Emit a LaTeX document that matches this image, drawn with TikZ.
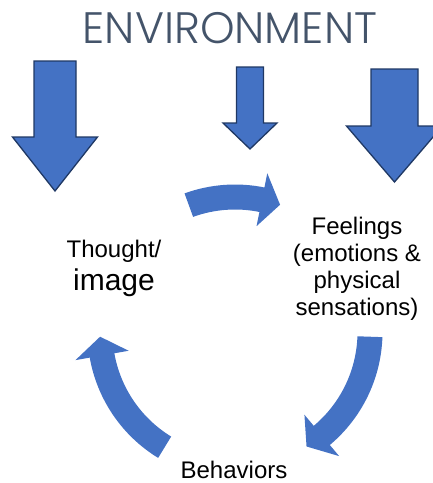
\documentclass[tikz,border=0pt]{standalone}
\usepackage{fontspec}
\setmainfont{Liberation Sans}
\newfontfamily\envfont{Poppins Light}
\usetikzlibrary{calc}
\definecolor{arrowblue}{HTML}{4472C4}
\definecolor{arrowline}{HTML}{1F3864}
\definecolor{envgray}{HTML}{44546A}
% straight arrow: centre x, top, shaft half width, head y, head half width, tip y
\newcommand{\envarrow}[6]{%
  \draw[envArrow] (#1-#3,#2) -- (#1+#3,#2) -- (#1+#3,#4) -- (#1+#5,#4)
    -- (#1,#6) -- (#1-#5,#4) -- (#1-#3,#4) -- cycle;}
% curved arrow round (ctr): tail angle, head angle, tip angle
\newcommand{\cyclearrow}[3]{%
  \fill[loopArrow] ($(ctr)+(#1:147.5)$) arc[start angle=#1, end angle=#2, radius=147.5]
    -- ($(ctr)+(#2:162)$) -- ($(ctr)+(#3:135)$) -- ($(ctr)+(#2:108)$)
    -- ($(ctr)+(#2:122.5)$) arc[start angle=#2, end angle=#1, radius=122.5] -- cycle;}

\begin{document}
\begin{tikzpicture}[x=1pt,y=1pt,
    envArrow/.style={fill=arrowblue, draw=arrowline, line width=1.3pt, line join=miter},
    loopArrow/.style={fill=arrowblue},
    label24/.style={anchor=base, align=center, inner sep=0pt, font=\fontsize{24}{27}\selectfont}]
        \useasboundingbox (0,0) rectangle (433,-483);
        \clip (0,0) rectangle (433,-483);
        % ENVIRONMENT and its arrows
        \node (env) at (230,-43) [anchor=base, inner sep=0pt, text=envgray]
          {\envfont\fontsize{44}{44}\selectfont ENVIRONMENT};
        \envarrow{55}{-61}{21}{-137}{42.5}{-191}
        \envarrow{250}{-67}{13.5}{-123}{27}{-149}
        \envarrow{394.5}{-69}{23.5}{-126}{48}{-182}

        % the cycle (base anchor = last line)
        \coordinate (ctr) at (235,-332);
        \node (thought) at (114,-290) [label24, font=\fontsize{24}{33}\selectfont]
          {Thought/\\ {\fontsize{30}{33}\selectfont image}};
        \node (feelings) at (357,-315) [label24]
          {Feelings\\(emotions \&\\physical\\sensations)};
        \node (behaviors) at (234,-478) [label24] {Behaviors};

        \cyclearrow{110}{78.5}{70.5}
        \cyclearrow{-2}{-50}{-58}
        \cyclearrow{238.6}{190}{182}
\end{tikzpicture}
\end{document}
